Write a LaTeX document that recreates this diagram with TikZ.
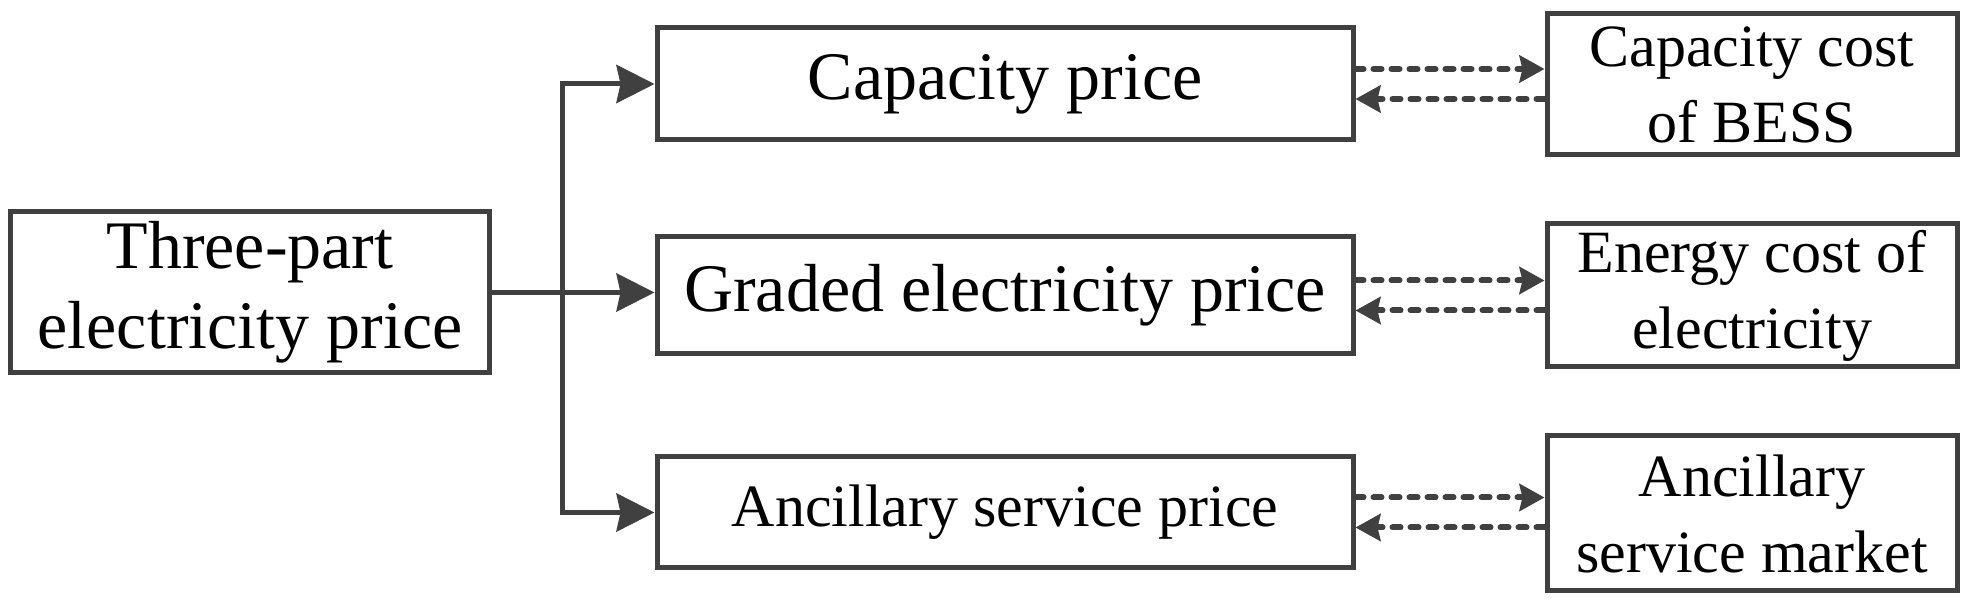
\documentclass[tikz,border=0pt]{standalone}
\usepackage{fontspec}
\setmainfont{Liberation Serif}
\usetikzlibrary{arrows.meta}
\definecolor{linegray}{RGB}{64,64,64}
\begin{document}
\begin{tikzpicture}[>={Stealth[length=38bp,width=38bp,inset=4bp]},line join=miter,
  box/.style={draw=linegray,line width=5bp,inner sep=0pt,align=center},
  bigtext/.style={font=\fontsize{68bp}{80bp}\selectfont},
  smalltext/.style={font=\fontsize{60bp}{76bp}\selectfont},
  flow/.style={draw=linegray,line width=5bp,->},
  feedback/.style={draw=linegray,line width=6bp,dash pattern=on 8bp off 10bp,line cap=round,-{Stealth[length=25bp,width=27bp,inset=3bp]}},
]
%%
\useasboundingbox (0bp,0bp) rectangle (1974bp,610bp);
\node (node_0) at (250bp,317.5bp) [box,bigtext,minimum width=479bp,minimum height=161bp] {Three-part\\electricity price};
  \node (node_1) at (1005bp,526bp) [box,bigtext,minimum width=696bp,minimum height=112bp] {Capacity price};
  \node (node_2) at (1005bp,314.5bp) [box,bigtext,minimum width=696bp,minimum height=117bp] {Graded electricity price};
  \node (node_3) at (1005bp,97.5bp) [box,smalltext,minimum width=696bp,minimum height=111bp] {Ancillary service price};
  \node (node_4) at (1752bp,525.5bp) [box,smalltext,minimum width=410bp,minimum height=141bp] {Capacity cost\\of BESS};
  \node (node_5) at (1752bp,314.5bp) [box,smalltext,minimum width=410bp,minimum height=143bp] {Energy cost of\\electricity};
  \node (node_6) at (1752bp,96.5bp) [box,smalltext,minimum width=410bp,minimum height=155bp] {Ancillary\\service market};
  \coordinate (split) at (562bp,317.5bp);
%
  \draw [flow] (node_0.east) -- (node_0.east -| node_2.west);
  \draw [flow] (split) |- (node_1.west);
  \draw [flow] (split) |- (node_3.west);
  \foreach \src/\dst in {node_1/node_4,node_2/node_5,node_3/node_6} {
    \draw [feedback] ([yshift=15bp]\src.east) -- ([yshift=15bp]\src.east -| \dst.west);
    \draw [feedback] ([yshift=-15bp]\src.east -| \dst.west) -- ([yshift=-15bp]\src.east);
  }
%
\end{tikzpicture}
\end{document}
